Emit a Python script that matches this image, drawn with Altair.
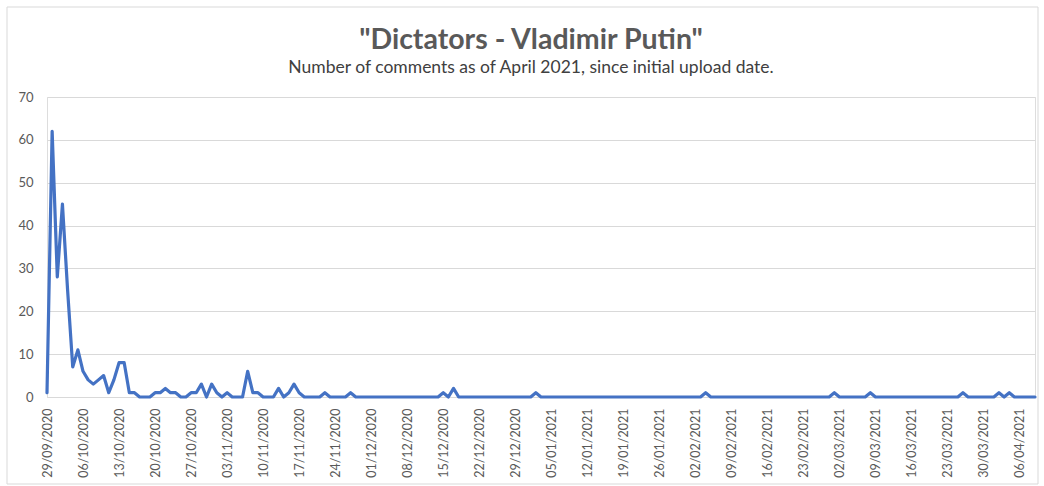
import altair as alt
import pandas as pd

# Daily comment counts, one value per day starting 29/09/2020
start_date = "2020-09-29"
comments = [
    1, 62, 28, 45, 25, 7, 11, 6, 4, 3,      # 29/09 - 08/10
    4, 5, 1, 4, 8, 8, 1, 1, 0, 0,           # 09/10 - 18/10
    0, 1, 1, 2, 1, 1, 0, 0, 1, 1,           # 19/10 - 28/10
    3, 0, 3, 1, 0, 1, 0, 0, 0, 6,           # 29/10 - 07/11
    1, 1, 0, 0, 0, 2, 0, 1, 3, 1,           # 08/11 - 17/11
    0, 0, 0, 0, 1, 0, 0, 0, 0, 1,           # 18/11 - 27/11
    0, 0, 0, 0, 0, 0, 0, 0, 0, 0,           # 28/11 - 07/12
    0, 0, 0, 0, 0, 0, 0, 1, 0, 2,           # 08/12 - 17/12
    0, 0, 0, 0, 0, 0, 0, 0, 0, 0,           # 18/12 - 27/12
    0, 0, 0, 0, 0, 1, 0, 0, 0, 0,           # 28/12 - 06/01
    0, 0, 0, 0, 0, 0, 0, 0, 0, 0,           # 07/01 - 16/01
    0, 0, 0, 0, 0, 0, 0, 0, 0, 0,           # 17/01 - 26/01
    0, 0, 0, 0, 0, 0, 0, 0, 1, 0,           # 27/01 - 05/02
    0, 0, 0, 0, 0, 0, 0, 0, 0, 0,           # 06/02 - 15/02
    0, 0, 0, 0, 0, 0, 0, 0, 0, 0,           # 16/02 - 25/02
    0, 0, 0, 1, 0, 0, 0, 0, 0, 0,           # 26/02 - 07/03
    1, 0, 0, 0, 0, 0, 0, 0, 0, 0,           # 08/03 - 17/03
    0, 0, 0, 0, 0, 0, 0, 0, 1, 0,           # 18/03 - 27/03
    0, 0, 0, 0, 0, 1, 0, 1, 0, 0,           # 28/03 - 06/04
    0, 0, 0,                                # 07/04 - 09/04
]

# Weekly tick marks on the date axis
tick_dates = [
    "2020-09-29", "2020-10-06", "2020-10-13", "2020-10-20", "2020-10-27",
    "2020-11-03", "2020-11-10", "2020-11-17", "2020-11-24", "2020-12-01",
    "2020-12-08", "2020-12-15", "2020-12-22", "2020-12-29", "2021-01-05",
    "2021-01-12", "2021-01-19", "2021-01-26", "2021-02-02", "2021-02-09",
    "2021-02-16", "2021-02-23", "2021-03-02", "2021-03-09", "2021-03-16",
    "2021-03-23", "2021-03-30", "2021-04-06",
]
y_ticks = [0, 10, 20, 30, 40, 50, 60, 70]

dates = pd.date_range(start_date, periods=len(comments), freq="D")
df = pd.DataFrame({"date": dates.strftime("%Y-%m-%d"), "comments": comments})


def as_dt(s):
    y, m, d = (int(p) for p in s.split("-"))
    return alt.DateTime(year=y, month=m, date=d, utc=True)


x_values = [as_dt(s) for s in tick_dates]
x_domain = [as_dt(df["date"].iloc[0]), as_dt(df["date"].iloc[-1])]

label_color = "#595959"
grid_color = "#d9d9d9"

line = alt.Chart(df).mark_line(
    color="#4472C4", strokeWidth=3.2, strokeJoin="round", strokeCap="round"
).encode(
    x=alt.X(
        "date:T",
        scale=alt.Scale(type="utc", domain=x_domain, nice=False, padding=0),
        axis=alt.Axis(
            title=None,
            values=x_values,
            format="%d/%m/%Y",
            labelAngle=270,
            labelFont="Lato",
            labelFontSize=12.5,
            labelColor=label_color,
            labelPadding=11,
            labelOverlap=False,
            labelFlush=False,
            ticks=False,
            grid=False,
            domainColor=grid_color,
            domainWidth=1,
        ),
    ),
    y=alt.Y(
        "comments:Q",
        scale=alt.Scale(domain=[0, 70], nice=False, zero=True),
        axis=alt.Axis(
            title=None,
            values=y_ticks,
            labelFont="Lato",
            labelFontSize=13,
            labelColor=label_color,
            labelPadding=14,
            ticks=False,
            domain=False,
            grid=True,
            gridColor=grid_color,
            gridWidth=1,
        ),
    ),
)

# Thin frame around the whole chart
frame = alt.Chart(pd.DataFrame({"k": [0]})).mark_rect(
    filled=False, stroke=grid_color, strokeWidth=1
).encode(
    x=alt.value(-40), x2=alt.value(991), y=alt.value(-90), y2=alt.value(387)
)

chart = alt.layer(frame, line).properties(
    width=988,
    height=300,
    autosize=alt.AutoSizeParams(type="none"),
    padding={"left": 47, "top": 97, "right": 9, "bottom": 89},
    title=alt.TitleParams(
        text='"Dictators - Vladimir Putin"',
        subtitle="Number of comments as of April 2021, since initial upload date.",
        font="Lato",
        fontSize=28.5,
        fontWeight="bold",
        color="#595959",
        subtitleFont="Lato",
        subtitleFontSize=17.5,
        subtitleColor="#404040",
        subtitlePadding=5,
        anchor="middle",
        frame="group",
        dx=-10,
        offset=-70,
    ),
).configure_view(stroke=None).configure(background="white")

chart.save("out.html", embed_options={"renderer": "svg", "actions": False})
